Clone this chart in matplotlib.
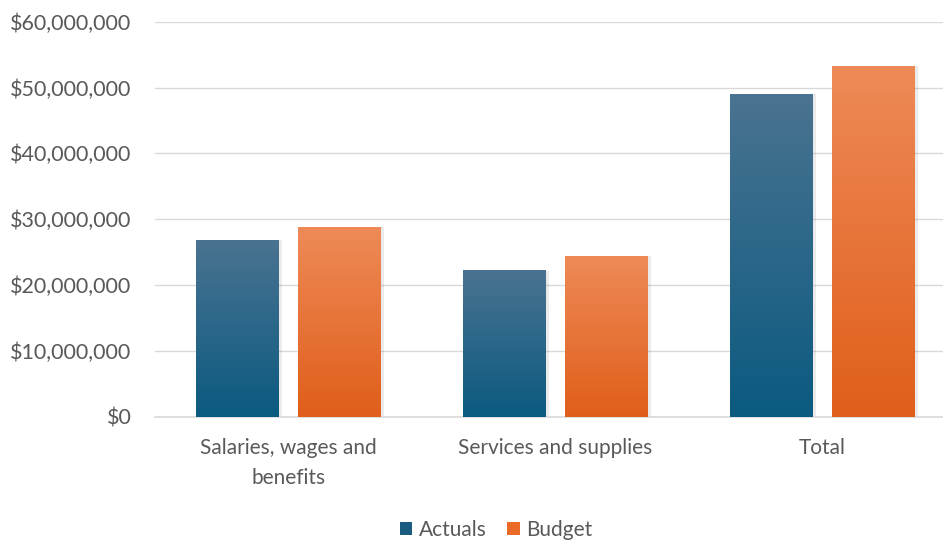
import numpy as np
import matplotlib.pyplot as plt
import matplotlib.ticker as mticker
from matplotlib.colors import LinearSegmentedColormap
from matplotlib.patches import Patch

plt.rcParams['font.family'] = ['Lato', 'DejaVu Sans']

categories = ["Salaries, wages and\nbenefits", "Services and supplies", "Total"]
actuals = [26_800_000, 22_200_000, 49_000_000]
budget = [28_800_000, 24_400_000, 53_300_000]

series = [
    ("Actuals", actuals, "#4a7391", "#0b5a80", "#1a5d80", -0.19),
    ("Budget", budget, "#ee8a57", "#e05e1a", "#ea6b28", 0.19),
]

fig = plt.figure(figsize=(9.43, 5.42), dpi=100)
ax = fig.add_axes([155 / 943, 125.3 / 542, 801 / 943, 395 / 542])

grey = "#595959"
width = 0.31
x = np.arange(len(categories))
grad = np.linspace(1, 0, 256).reshape(-1, 1)

for name, vals, top, bottom, solid, off in series:
    cmap = LinearSegmentedColormap.from_list(name, [bottom, top])
    for xi, v in zip(x, vals):
        x0 = xi + off - width / 2
        # soft shadow to the right
        ax.bar(xi + off + 0.012, v, width=width, color="#000000", alpha=0.08,
               zorder=2, linewidth=0)
        ax.imshow(grad, cmap=cmap, extent=[x0, x0 + width, 0, v],
                  aspect="auto", zorder=3, vmin=0, vmax=1)

ax.set_xlim(-0.5, 2.5)
ax.set_ylim(0, 60_000_000)
ax.yaxis.set_major_locator(mticker.MultipleLocator(10_000_000))
ax.yaxis.set_major_formatter(mticker.FuncFormatter(lambda v, p: f"${v:,.0f}"))
ax.grid(axis="y", color="#d9d9d9", linewidth=1, zorder=0)
ax.set_axisbelow(True)
ax.set_xticks(x)
ax.set_xticklabels(categories, linespacing=1.65)
for s in ["top", "right", "left"]:
    ax.spines[s].set_visible(False)
ax.spines["bottom"].set_color("#d9d9d9")
ax.spines["bottom"].set_linewidth(1.2)
ax.tick_params(axis="y", length=0, pad=17, labelsize=15.5, labelcolor=grey)
ax.tick_params(axis="x", length=0, pad=15, labelsize=15, labelcolor=grey)

handles = [Patch(facecolor=s[4], label=s[0]) for s in series]
fig.legend(handles=handles, loc="center", bbox_to_anchor=(496 / 943, 1 - 530 / 542),
           ncol=2, frameon=False, fontsize=15, labelcolor=grey,
           handlelength=0.6, handleheight=0.6, handletextpad=0.3, columnspacing=1.0)

fig.savefig("out.png", dpi=100)
